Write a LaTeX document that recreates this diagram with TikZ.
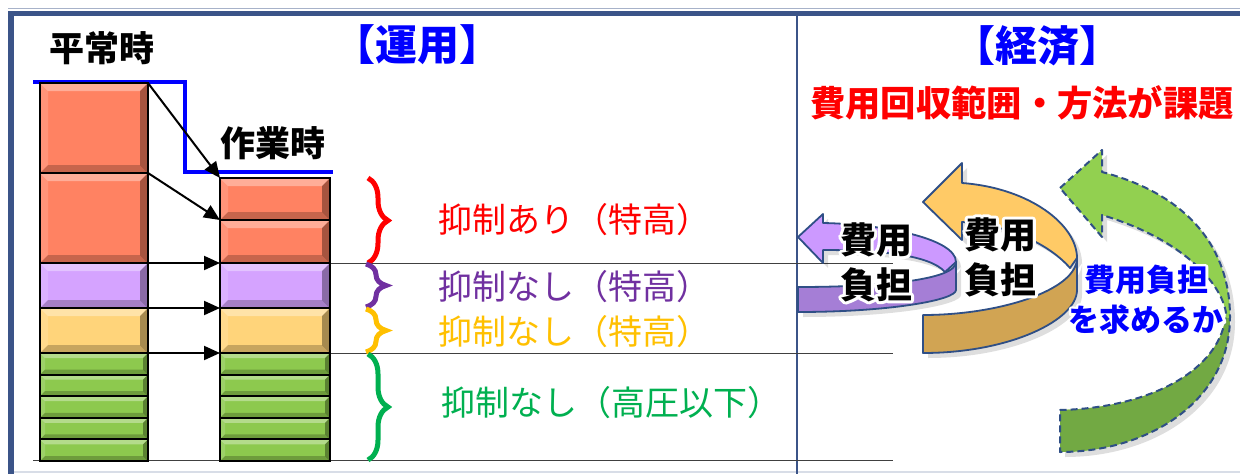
\documentclass[tikz,border=0pt]{standalone}
\usepackage{fontspec}
\newfontfamily\jp{Noto Sans CJK JP}
\usetikzlibrary{arrows.meta,decorations.pathreplacing}
\definecolor{frameblue}{HTML}{3B5488}
\definecolor{boxorange}{HTML}{FF8262}
\definecolor{boxpurple}{HTML}{D5A3FF}
\definecolor{boxyellow}{HTML}{FFD47A}
\definecolor{boxgreen}{HTML}{8DC94E}
\definecolor{lblred}{HTML}{FF0000}
\definecolor{lblpurple}{HTML}{7030A0}
\definecolor{lblyellow}{HTML}{FFC000}
\definecolor{lblgreen}{HTML}{00B050}
\definecolor{arrpurpleL}{HTML}{CC99FF}
\definecolor{arrpurpleD}{HTML}{A57ED6}
\definecolor{arrorangeL}{HTML}{FFCA66}
\definecolor{arrorangeD}{HTML}{D1A453}
\definecolor{arrgreenL}{HTML}{92D050}
\definecolor{arrgreenD}{HTML}{72A943}
\definecolor{outl}{HTML}{2F4F86}
\definecolor{gridgray}{HTML}{404040}
\newcommand\bevelpic[1]{%
  \fill[white,opacity=.35] (path picture bounding box.north west) -- (path picture bounding box.north east)
     -- ([shift={(-#1,-#1)}]path picture bounding box.north east) -- ([shift={(#1,-#1)}]path picture bounding box.north west) -- cycle;
  \fill[white,opacity=.15] (path picture bounding box.north west) -- ([shift={(#1,-#1)}]path picture bounding box.north west)
     -- ([shift={(#1,#1)}]path picture bounding box.south west) -- (path picture bounding box.south west) -- cycle;
  \fill[black,opacity=.35] (path picture bounding box.north east) -- (path picture bounding box.south east)
     -- ([shift={(-#1,#1)}]path picture bounding box.south east) -- ([shift={(-#1,-#1)}]path picture bounding box.north east) -- cycle;
  \fill[black,opacity=.22] (path picture bounding box.south west) -- (path picture bounding box.south east)
     -- ([shift={(-#1,#1)}]path picture bounding box.south east) -- ([shift={(#1,#1)}]path picture bounding box.south west) -- cycle;
}
\newcommand\glowon{\special{pdf:literal direct 1 Tr 6 w 1 j}}
\newcommand\glowoff{\special{pdf:literal direct 0 Tr}}
\tikzset{
  bevbig/.style={draw=black, line width=2pt, fill=#1, inner sep=0pt, outer sep=0pt, path picture={\bevelpic{8pt}}},
  bevsmall/.style={draw=black, line width=2pt, fill=#1, inner sep=0pt, outer sep=0pt, path picture={\bevelpic{5pt}}},
  lcol/.style={minimum width=108pt},
  rcol/.style={minimum width=110pt},
  conn/.style={line width=2pt, -{Triangle[length=16pt,width=14pt]}},
  gridline/.style={gridgray, line width=1.3pt},
  bracestyle/.style={line width=5pt, #1, decorate, decoration={brace, amplitude=20pt}},
  lbl/.style={anchor=west, inner sep=0pt, font=\jp\fontsize{34}{40}\selectfont, text=#1},
  ttl/.style={font=\jp\bfseries\fontsize{42}{50}\selectfont, text=blue, inner sep=0pt},
  hdr/.style={font=\jp\bfseries\fontsize{35}{42}\selectfont, text=black, inner sep=0pt},
  ribbon/.style={draw=outl, line width=1.8pt, line join=round},
  arrtext/.style={font=\jp\bfseries\fontsize{36}{45}\selectfont, align=center, inner sep=0pt},
  bluetext/.style={font=\jp\bfseries\fontsize{31}{40}\selectfont, align=center, inner sep=0pt},
}
\begin{document}
\begin{tikzpicture}[x=1pt,y=-1pt]
\useasboundingbox (0,0) rectangle (1240,474);
\fill[white] (0,0) rectangle (1240,474);
% frame
\draw[color=frameblue!45, line width=1.5pt] (8,8.5) -- (1240,8.5);
\draw[frameblue, line width=5pt] (8,13.5) -- (1240,13.5);
\draw[frameblue, line width=6pt] (11,11) -- (11,474);
\draw[frameblue!20, line width=2pt] (14,472) -- (1240,472);
\draw[frameblue, line width=2pt] (797,16) -- (797,474);
% grid lines
\draw[gridline] (330,263.5) -- (893,263.5);
\draw[gridline] (330,353.5) -- (893,353.5);
\draw[gridline] (33,460.5) -- (893,460.5);
% blue line
\draw[blue, line width=4pt] (33,82) -- (185,82) -- (185,172) -- (333,172);
% left column
\node[bevbig=boxorange, lcol, minimum height=90pt] (L1) at (94,128) {};
\node[bevbig=boxorange, lcol, minimum height=90pt] (L2) at (94,218) {};
\node[bevbig=boxpurple, lcol, minimum height=45pt] (L3) at (94,285.5) {};
\node[bevbig=boxyellow, lcol, minimum height=45pt] (L4) at (94,330.5) {};
\node[bevsmall=boxgreen, lcol, minimum height=21.6pt] (L5) at (94,363.8) {};
\node[bevsmall=boxgreen, lcol, minimum height=21.6pt] (L6) at (94,385.4) {};
\node[bevsmall=boxgreen, lcol, minimum height=21.6pt] (L7) at (94,407) {};
\node[bevsmall=boxgreen, lcol, minimum height=21.6pt] (L8) at (94,428.6) {};
\node[bevsmall=boxgreen, lcol, minimum height=21.6pt] (L9) at (94,450.2) {};
% right column
\node[bevbig=boxorange, rcol, minimum height=42pt] (R1) at (275,199) {};
\node[bevbig=boxorange, rcol, minimum height=43pt] (R2) at (275,241.5) {};
\node[bevbig=boxpurple, rcol, minimum height=45pt] (R3) at (275,285.5) {};
\node[bevbig=boxyellow, rcol, minimum height=45pt] (R4) at (275,330.5) {};
\node[bevsmall=boxgreen, rcol, minimum height=21.6pt] (R5) at (275,363.8) {};
\node[bevsmall=boxgreen, rcol, minimum height=21.6pt] (R6) at (275,385.4) {};
\node[bevsmall=boxgreen, rcol, minimum height=21.6pt] (R7) at (275,407) {};
\node[bevsmall=boxgreen, rcol, minimum height=21.6pt] (R8) at (275,428.6) {};
\node[bevsmall=boxgreen, rcol, minimum height=21.6pt] (R9) at (275,450.2) {};
% arrows
\draw[conn] (L1.north east) -- (R1.north west);
\draw[conn] (L2.north east) -- (R2.north west);
\draw[conn] (L3.north east) -- (R3.north west);
\draw[conn] (L4.north east) -- (R4.north west);
\draw[conn] (L5.north east) -- (R5.north west);
% headers
\node[hdr] (h1) at (102,48) {平常時};
\node[hdr] (h2) at (273,143) {作業時};
\node[ttl] (t1) at (417,45) {【運用】};
\node[ttl] (t2) at (1037,46) {【経済】};
\node[anchor=west, inner sep=0pt, font=\jp\bfseries\fontsize{35.3}{42}\selectfont, text=lblred] (t3) at (810,103) {費用回収範囲・方法が課題};
% braces
\draw[bracestyle=lblred] (368,178) -- (368,263);
\draw[bracestyle=lblpurple] (366,264) -- (366,307);
\draw[bracestyle=lblyellow] (366,309) -- (366,352);
\draw[bracestyle=lblgreen] (368,354) -- (368,460);
% labels
\node[lbl=lblred] (s1) at (438,220) {抑制あり（特高）};
\node[lbl=lblpurple] (s2) at (438,287) {抑制なし（特高）};
\node[lbl=lblyellow] (s3) at (438,332) {抑制なし（特高）};
\node[lbl=lblgreen] (s4) at (441,403) {抑制なし（高圧以下）};
% orange ribbon arrow
\def\orangeback{(923,202) -- (962,163) -- (962,183) .. controls (1030,188) and (1077,225) .. (1077,258)
   -- (1070,268) .. controls (1050,245) and (1010,225) .. (962,222) -- (962,240) -- cycle}
\def\orangefront{(1077,258) .. controls (1077,290) and (1000,315) .. (923,315) -- (923,353)
   .. controls (1010,353) and (1077,320) .. (1077,290) -- cycle}
\fill[black,opacity=.13, shift={(5,5)}] \orangeback;
\fill[black,opacity=.13, shift={(5,5)}] \orangefront;
\draw[ribbon, fill=arrorangeL] \orangeback;
\draw[ribbon, fill=arrorangeD] \orangefront;
% purple ribbon arrow
\def\purpleback{(798,237) -- (823,214) -- (823,223) .. controls (880,224) and (956,238) .. (956,262)
   -- (945,272) .. controls (930,255) and (880,250) .. (823,250) -- (823,263) -- cycle}
\def\purplefront{(956,262) .. controls (956,280) and (880,287) .. (798,287) -- (798,312)
   .. controls (890,312) and (956,300) .. (956,290) -- cycle}
\fill[black,opacity=.13, shift={(5,5)}] \purpleback;
\fill[black,opacity=.13, shift={(5,5)}] \purplefront;
\draw[ribbon, fill=arrpurpleL] \purpleback;
\draw[ribbon, fill=arrpurpleD] \purplefront;
% green arrow
\def\greenpath{(1060,188) -- (1102,150) -- (1102,172) .. controls (1190,195) and (1230,250) .. (1230,317)
   .. controls (1230,400) and (1150,452) .. (1060,452) -- (1060,410) .. controls (1150,408) and (1222,370) .. (1226,313)
   .. controls (1222,285) and (1185,240) .. (1102,215) -- (1102,237) -- cycle}
\fill[black,opacity=.13, shift={(5,5)}] \greenpath;
\fill[arrgreenL] \greenpath;
\begin{scope}
  \clip (1000,318) rectangle (1240,474);
  \fill[arrgreenD] \greenpath;
\end{scope}
\draw[outl, line width=2pt, dash pattern=on 7pt off 4pt, line join=round] \greenpath;
% arrow texts (white glow, then text)
\node[arrtext, text=white] (a1g) at (876,262) {\glowon 費用\\負担\glowoff};
\node[arrtext, text=black] (a1) at (876,262) {費用\\負担};
\node[arrtext, text=white] (a2g) at (1000,257) {\glowon 費用\\負担\glowoff};
\node[arrtext, text=black] (a2) at (1000,257) {費用\\負担};
\node[bluetext, text=white] (a3g) at (1146,300) {\glowon 費用負担\\を求めるか\glowoff};
\node[bluetext, text=blue] (a3) at (1146,300) {費用負担\\を求めるか};
\end{tikzpicture}
\end{document}
